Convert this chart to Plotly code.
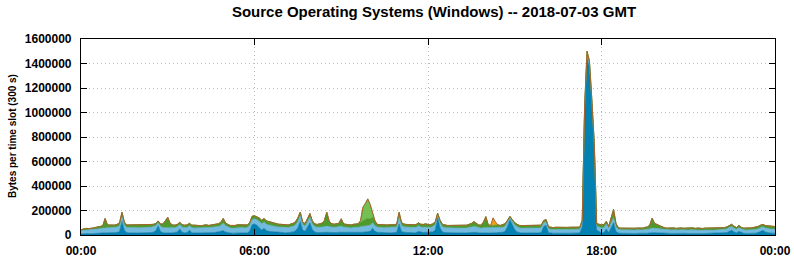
import pandas as pd
import plotly.graph_objects as go

# time slots: 5-minute slots from 2018-07-03 00:00 to 2018-07-04 00:00
times = pd.date_range("2018-07-03 00:00", "2018-07-04 00:00", freq="5min")

# values in thousands of bytes per slot, one row per hour (12 slots)
dark_blue = [
    10,12,14,12,10,12,14,15,16,15,18,18,
    18,16,18,20,30,110,40,20,18,16,18,18,
    16,18,17,16,18,20,22,35,75,30,18,16,
    18,16,18,20,25,50,22,18,20,40,18,16,
    16,15,16,18,17,16,18,20,22,25,30,35,
    25,18,16,15,16,18,20,18,16,18,30,85,
    90,80,60,40,55,35,30,28,25,22,20,20,
    20,18,20,22,25,35,60,110,40,30,70,100,
    45,25,20,18,20,22,25,22,20,18,20,22,
    22,20,18,18,16,18,17,18,20,22,25,28,
    30,55,30,22,20,18,18,20,18,18,20,22,
    90,30,22,20,22,20,20,18,30,22,20,22,
    22,20,25,40,140,60,25,20,18,20,18,18,
    18,16,18,16,18,20,22,25,22,18,16,18,
    18,16,16,16,18,20,18,22,30,70,125,85,
    45,25,18,16,16,18,16,16,18,16,18,20,
    70,80,20,15,14,15,14,15,14,15,14,15,
    14,15,14,16,70,1000,1440,1370,1060,710,40,30,
    18,20,50,20,60,100,30,16,14,13,14,13,
    13,12,13,14,12,13,14,15,18,22,20,18,
    16,15,14,13,14,13,14,12,13,14,13,14,
    13,14,13,12,14,13,12,13,14,13,12,13,
    13,14,15,16,20,30,40,25,18,30,20,15,
    13,12,13,14,15,20,28,38,25,18,16,15,14,
]
light_blue = [
    25,26,28,30,32,33,34,35,38,40,42,42,
    42,44,43,45,45,45,40,42,44,44,45,43,
    44,42,42,44,45,44,45,40,25,42,42,44,
    45,44,42,40,42,35,42,42,40,35,42,42,
    42,42,40,42,44,42,44,45,44,45,48,60,
    50,45,42,40,42,44,42,44,42,44,48,40,
    42,45,50,52,50,50,52,48,48,46,46,45,
    45,44,42,45,45,48,50,50,45,42,45,45,
    45,44,44,45,46,46,48,46,45,45,46,48,
    50,45,44,42,42,44,44,45,48,50,52,52,
    50,45,45,42,42,40,42,42,44,42,42,44,
    60,48,45,44,42,42,44,44,45,44,44,45,
    42,42,44,45,25,40,42,40,40,38,40,40,
    40,40,38,40,40,42,42,45,45,42,40,42,
    42,42,40,42,42,42,40,40,42,35,15,25,
    35,42,40,40,42,40,40,42,40,40,40,40,
    30,28,32,30,30,30,32,30,32,30,30,30,
    30,30,32,32,30,30,30,25,22,22,32,35,
    40,40,40,35,40,40,35,28,28,28,27,28,
    28,27,28,28,27,28,30,30,32,35,35,32,
    32,30,28,27,28,27,28,27,28,28,27,28,
    27,28,27,26,28,27,26,27,28,27,26,27,
    27,28,28,28,30,32,30,30,28,30,28,27,
    27,28,28,30,30,32,32,30,32,34,34,35,35,
]
green = [
    8,10,12,10,10,12,14,14,16,20,75,22,
    20,22,20,22,25,30,25,20,20,22,20,22,
    22,20,22,22,20,22,20,18,15,18,30,60,
    80,35,22,20,20,18,20,20,22,20,20,22,
    20,22,20,20,22,20,20,22,22,22,25,40,
    25,22,20,20,20,22,20,22,20,20,22,28,
    25,25,28,28,30,30,28,25,24,22,22,22,
    22,22,20,22,25,25,30,27,20,22,25,30,
    25,22,22,25,30,50,112,45,28,25,24,25,
    60,25,25,25,24,25,26,28,35,45,50,55,
    50,45,35,22,22,22,22,20,22,22,22,22,
    35,25,22,22,20,22,20,22,25,22,22,24,
    22,22,22,22,12,20,20,20,20,20,20,22,
    20,22,22,20,22,25,30,40,25,22,24,45,
    90,25,22,22,22,20,20,20,20,15,12,15,
    20,20,20,20,22,20,22,20,20,20,20,20,
    18,18,15,16,16,18,16,18,16,18,18,18,
    18,16,18,16,20,25,30,25,20,18,20,20,
    25,25,22,15,35,70,30,15,14,14,14,14,
    14,15,14,15,16,15,18,20,30,80,40,35,
    30,22,18,16,16,15,16,15,16,16,15,16,
    15,16,18,16,15,14,15,16,15,14,15,16,
    15,15,15,16,16,18,17,16,15,18,15,14,
    15,16,17,17,18,18,20,18,20,22,22,22,20,
]
# sparse series: slot index -> value (thousands), zero elsewhere
light_green_points = {116: 15, 117: 110, 118: 130, 119: 160, 120: 120, 121: 40, 122: 5}
orange_points = {171: 60, 172: 25}

light_green = [light_green_points.get(i, 0) for i in range(len(times))]
orange = [orange_points.get(i, 0) for i in range(len(times))]

series = [
    ("Windows 7", dark_blue, "#0481b3", "#036e99"),
    ("Windows 10", light_blue, "#72bbdf", "#5aa6cc"),
    ("Windows 8", green, "#4f9a2c", "#3f8a22"),
    ("Windows XP", light_green, "#74c052", "#5aa83c"),
    ("Other", orange, "#f0a012", "#a8622a"),
]

fig = go.Figure()
for name, vals, fillc, linec in series:
    fig.add_trace(go.Scatter(
        x=times, y=[v * 1000 for v in vals], name=name,
        mode="lines", stackgroup="one",
        line=dict(color=linec, width=1 if name == "Other" else 0.6, shape="linear"),
        fillcolor=fillc,
    ))

font = "Liberation Sans, Arial, sans-serif"
fig.update_layout(
    width=794, height=260,
    margin=dict(l=81, r=19, t=39, b=25, autoexpand=False),
    paper_bgcolor="white", plot_bgcolor="white",
    showlegend=False,
    title=dict(text="Source Operating Systems (Windows) -- 2018-07-03 GMT",
               x=434 / 794, xanchor="center", y=1 - 12 / 260, yanchor="middle",
               font=dict(family=font, size=15, color="black", weight="bold")),
    font=dict(family=font, color="black"),
)
fig.update_xaxes(
    range=[times[0], times[-1]], type="date", automargin=False,
    tickformat="%H:%M", dtick=6 * 3600 * 1000, tick0=times[0],
    showgrid=True, gridcolor="#bbbbbb", griddash="1px,3px", gridwidth=1,
    showline=True, linecolor="black", linewidth=1.2, mirror="ticks",
    ticks="inside", ticklen=6, tickcolor="black", tickwidth=1.2,
    tickfont=dict(family=font, size=12, color="black", weight="bold"),
    ticklabelstandoff=4,
)
fig.update_yaxes(
    range=[0, 1600000], dtick=200000, tickformat="d", automargin=False,
    showgrid=True, gridcolor="#bbbbbb", griddash="1px,3px", gridwidth=1,
    showline=True, linecolor="black", linewidth=1.2, mirror="ticks",
    ticks="inside", ticklen=6, tickcolor="black", tickwidth=1.2,
    tickfont=dict(family=font, size=12, color="black", weight="bold"),
    ticklabelstandoff=6, zeroline=False,
)
fig.add_annotation(
    text="Bytes per time slot (300 s)", textangle=-90,
    xref="paper", yref="paper", x=(12 - 81) / 694, y=(235 - 136) / 196,
    xanchor="center", yanchor="middle", showarrow=False,
    font=dict(family=font, size=10, color="black", weight="bold"),
)
fig.write_html("out.html")
